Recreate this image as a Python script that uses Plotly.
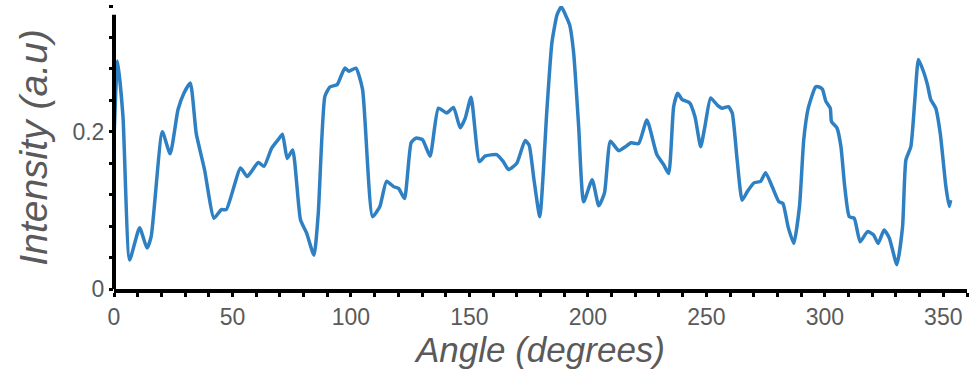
import plotly.graph_objects as go

angle = [0.0, 1.5, 3.8, 6.6, 10.8, 13.9, 15.7, 20.4, 23.7, 27.0, 29.5, 32.2, 34.7, 38.2,
         42.2, 45.3, 47.4, 53.4, 56.2, 60.9, 63.3, 66.5, 69.3, 71.1, 73.1, 75.4, 78.7,
         81.3, 84.4, 86.2, 89.0, 91.1, 94.2, 97.4, 99.2, 102.1, 104.9, 109.1, 112.2,
         115.0, 118.1, 120.1, 122.6, 125.4, 127.4, 130.2, 133.4, 136.9, 140.4, 143.3,
         146.1, 148.2, 150.7, 154.2, 156.6, 161.5, 164.3, 166.5, 170.0, 173.5, 175.2,
         177.2, 179.7, 182.7, 184.8, 187.0, 188.8, 190.5, 192.3, 194.0, 196.1, 198.2,
         201.8, 204.6, 207.0, 209.5, 213.0, 215.8, 218.2, 221.4, 224.9, 229.1, 232.0,
         234.1, 236.2, 237.9, 239.8, 242.9, 245.2, 247.6, 249.4, 251.8, 254.6, 256.7,
         259.3, 260.9, 263.0, 265.1, 267.3, 270.1, 272.9, 275.0, 277.8, 280.6, 282.3,
         284.5, 286.9, 289.3, 291.1, 293.0, 296.1, 297.6, 299.0, 300.4, 302.3, 302.8,
         305.1, 306.8, 308.4, 310.3, 312.4, 314.9, 318.0, 320.5, 322.5, 325.0, 327.2,
         330.4, 332.8, 334.2, 336.3, 338.0, 339.5, 341.6, 343.3, 344.7, 346.8, 348.7,
         351.1, 352.5, 353.1]
intensity = [0.190, 0.290, 0.219, 0.037, 0.078, 0.052, 0.067, 0.200, 0.172, 0.228, 0.249,
             0.262, 0.198, 0.152, 0.090, 0.101, 0.101, 0.154, 0.143, 0.161, 0.156, 0.179,
             0.190, 0.197, 0.166, 0.177, 0.088, 0.071, 0.043, 0.096, 0.245, 0.257, 0.260,
             0.281, 0.277, 0.281, 0.254, 0.092, 0.105, 0.137, 0.130, 0.128, 0.115, 0.186,
             0.192, 0.190, 0.169, 0.230, 0.224, 0.231, 0.205, 0.217, 0.244, 0.162, 0.169,
             0.171, 0.162, 0.152, 0.160, 0.189, 0.183, 0.140, 0.092, 0.228, 0.313, 0.349,
             0.359, 0.349, 0.336, 0.300, 0.207, 0.111, 0.139, 0.106, 0.122, 0.188, 0.176,
             0.181, 0.186, 0.185, 0.215, 0.171, 0.158, 0.147, 0.232, 0.249, 0.241, 0.237,
             0.219, 0.181, 0.207, 0.243, 0.234, 0.230, 0.232, 0.224, 0.164, 0.113, 0.124,
             0.135, 0.137, 0.148, 0.130, 0.111, 0.109, 0.079, 0.058, 0.105, 0.190, 0.230,
             0.257, 0.257, 0.254, 0.239, 0.230, 0.213, 0.205, 0.181, 0.130, 0.092, 0.090,
             0.060, 0.073, 0.069, 0.058, 0.075, 0.065, 0.031, 0.079, 0.164, 0.181, 0.241,
             0.292, 0.277, 0.260, 0.241, 0.230, 0.198, 0.130, 0.105, 0.113]

x_tickvals = [0, 50, 100, 150, 200, 250, 300, 350]
y_tickvals = [0, 0.2]
y_ticktext = ["0", "0.2"]

label_font = dict(family="Liberation Sans, Arial, sans-serif", size=23, color="#5a5a5a")
xtitle_font = dict(family="Liberation Sans, Arial, sans-serif", size=35, color="#5a5a5a")
ytitle_font = dict(family="Liberation Sans, Arial, sans-serif", size=39, color="#5a5a5a")

fig = go.Figure()
fig.add_trace(go.Scatter(
    x=angle, y=intensity, mode="lines",
    line=dict(color="#2f80c2", width=3.5, shape="spline", smoothing=0.5),
    showlegend=False,
))

fig.update_layout(
    width=971, height=374,
    margin=dict(l=114, r=4, t=6, b=85),
    paper_bgcolor="white", plot_bgcolor="white",
    xaxis=dict(
        range=[0, 360], tickvals=x_tickvals, ticks="outside", ticklen=4, tickwidth=3,
        tickcolor="black", showline=True, linecolor="black", linewidth=4,
        showgrid=False, zeroline=False, tickfont=label_font,
        minor=dict(dtick=10, tick0=0, ticks="outside", ticklen=4, tickwidth=3, tickcolor="black"),
        title=dict(text="<i>Angle (degrees)</i>", font=xtitle_font, standoff=0),
    ),
    yaxis=dict(
        range=[0, 0.36], tickvals=y_tickvals, ticktext=y_ticktext, ticks="outside", ticklen=4,
        tickwidth=3, tickcolor="black", showline=False, showgrid=False, zeroline=False,
        tickfont=label_font,
        minor=dict(dtick=0.04, tick0=0, ticks="outside", ticklen=4, tickwidth=3, tickcolor="black"),
        title=dict(text="<i>Intensity (a.u)</i>", font=ytitle_font, standoff=12),
    ),
    shapes=[dict(type="line", xref="paper", yref="y", x0=0, x1=0, y0=-0.002, y1=0.349,
                 line=dict(color="black", width=4), layer="above")],
)

fig.write_html("out.html", config={"displayModeBar": False},
               post_script="document.body.style.margin='0';")
